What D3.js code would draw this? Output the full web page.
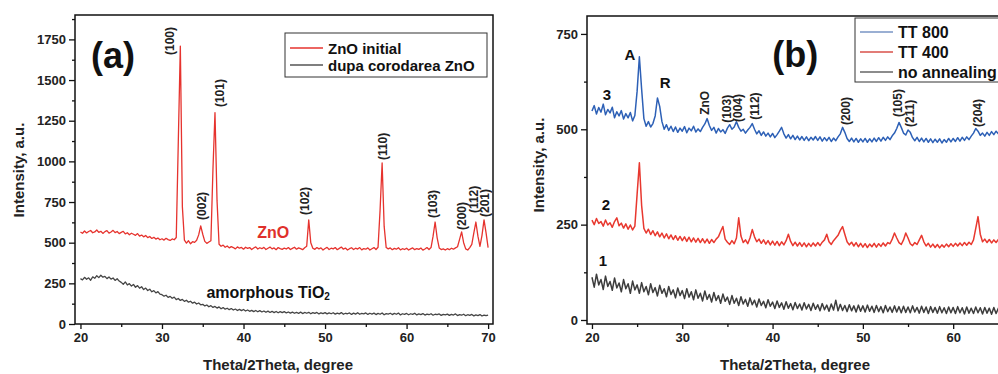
<!DOCTYPE html>
<html>
<head>
<meta charset="utf-8">
<script src="https://cdn.jsdelivr.net/npm/d3@7"></script>
<style>
  html, body { margin: 0; padding: 0; background: #fff; }
  svg { display: block; font-family: "Liberation Sans", Arial, sans-serif; }
</style>
</head>
<body>
<svg id="chart" width="998" height="374"></svg>
<script>
// scans are sampled every 0.25 degree starting at 20
const angleStart = 20;
const angleStep = 0.25;

// panel (a) - ZnO initial (20..70)
const znoInitial = [
  565, 558, 572, 560, 569, 575, 561, 566, 578, 563, 570, 557, 568, 574, 559, 566, 576, 562, 569, 556,
  563, 570, 554, 561, 549, 558, 552, 545, 556, 540, 547, 536, 544, 531, 538, 526, 533, 522, 529, 518,
  524, 516, 527, 519, 514, 523, 518, 532, 1120, 1709, 720, 515, 497, 512, 493, 506, 502, 515, 548, 603,
  552, 508, 496, 504, 512, 950, 1300, 760, 490, 478, 485, 472, 480, 468, 476, 470, 462, 474, 466, 471,
  460, 472, 465, 470, 458, 467, 474, 461, 469, 463, 471, 458, 466, 473, 462, 468, 457, 470, 464, 459,
  467, 461, 470, 458, 465, 472, 460, 468, 463, 457, 469, 478, 640, 500, 466, 459, 470, 462, 468, 455,
  464, 471, 458, 466, 462, 470, 457, 465, 473, 460, 467, 455, 463, 469, 458, 466, 461, 470, 456, 464,
  460, 468, 455, 463, 470, 458, 472, 700, 990, 600, 470, 462, 468, 457, 465, 460, 469, 456, 463, 458,
  466, 455, 462, 468, 457, 464, 459, 467, 454, 461, 470, 458, 470, 540, 627, 530, 468, 458, 462, 455,
  463, 457, 466, 460, 468, 475, 520, 566, 500, 462, 455, 470, 490, 560, 627, 540, 478, 545, 640, 560,
  470
];

// panel (a) - dupa corodarea ZnO (20..70)
const dupaCorodarea = [
  279, 271, 287, 275, 284, 269, 290, 281, 297, 285, 300, 288, 293, 279, 289, 276, 283, 268, 278, 264,
  256, 244, 259, 240, 248, 233, 243, 226, 236, 220, 229, 212, 221, 206, 214, 198, 205, 191, 199, 184,
  180, 171, 177, 164, 170, 158, 165, 150, 157, 145, 151, 139, 146, 134, 140, 128, 134, 123, 129, 118,
  121, 111, 117, 106, 113, 102, 108, 98, 105, 94, 101, 91, 97, 88, 95, 86, 92, 83, 90, 82,
  89, 80, 86, 78, 84, 76, 83, 75, 82, 74, 80, 72, 79, 71, 78, 70, 77, 69, 76, 70,
  76, 68, 74, 67, 73, 66, 72, 65, 73, 64, 71, 66, 72, 63, 70, 65, 71, 62, 69, 64,
  70, 62, 68, 63, 69, 61, 67, 62, 70, 60, 66, 63, 68, 59, 67, 61, 69, 60, 65, 62,
  68, 59, 66, 61, 67, 58, 65, 60, 68, 57, 64, 61, 66, 58, 65, 60, 67, 56, 63, 59,
  65, 57, 63, 59, 66, 56, 62, 58, 64, 55, 61, 57, 63, 54, 60, 58, 62, 53, 59, 56,
  61, 53, 59, 55, 62, 52, 58, 54, 60, 51, 57, 53, 59, 50, 56, 52, 58, 49, 55, 51,
  54
];

// panel (b) - TT 800 (20..65.75)
const tt800 = [
  548, 562, 540, 557, 545, 566, 538, 552, 543, 558, 530, 546, 535, 549, 527, 541, 530, 544, 522, 536,
  600, 690, 605, 528, 508, 520, 506, 515, 535, 582, 560, 520, 500, 512, 497, 508, 494, 506, 492, 503,
  495, 507, 491, 503, 496, 508, 493, 501, 494, 505, 514, 528, 510, 497, 505, 490, 502, 493, 499, 489,
  503, 512, 500, 506, 520, 505, 495, 500, 490, 498, 505, 515, 500, 488, 496, 484, 493, 482, 490, 480,
  489, 478, 486, 495, 505, 488, 477, 486, 475, 484, 473, 482, 472, 481, 471, 480, 470, 479, 472, 481,
  471, 480, 469, 478, 470, 479, 468, 477, 470, 480, 488, 505, 492, 476, 468, 477, 467, 476, 466, 475,
  467, 476, 466, 475, 467, 477, 468, 478, 469, 479, 471, 480, 473, 483, 490, 502, 518, 505, 490, 485,
  498, 492, 478, 470, 479, 468, 477, 467, 476, 466, 475, 465, 474, 466, 475, 464, 473, 466, 476, 467,
  476, 468, 478, 469, 479, 471, 480, 473, 482, 490, 502, 495, 484, 490, 482, 492, 484, 494, 486, 495,
  488, 496, 489, 497
];

// panel (b) - TT 400
const tt400 = [
  262, 250, 266, 253, 258, 246, 262, 249, 255, 243, 258, 268, 247, 254, 241, 252, 238, 249, 236, 246,
  330, 412, 300, 240, 228, 238, 224, 234, 221, 231, 218, 228, 215, 226, 213, 223, 211, 221, 209, 219,
  208, 218, 206, 217, 205, 215, 204, 214, 203, 213, 202, 212, 201, 211, 203, 212, 218, 232, 245, 212,
  204, 198, 208, 200, 215, 268, 220, 203, 210, 200, 215, 237, 218, 205, 212, 201, 210, 199, 208, 197,
  207, 196, 206, 195, 205, 197, 208, 225, 206, 195, 204, 194, 203, 193, 202, 192, 201, 193, 202, 194,
  203, 195, 204, 210, 225, 205, 198, 208, 215, 222, 235, 245, 225, 205, 197, 204, 194, 203, 192, 201,
  191, 200, 190, 199, 192, 201, 191, 200, 193, 202, 194, 203, 200, 212, 228, 215, 203, 198, 210, 228,
  215, 200, 195, 203, 198, 210, 222, 205, 194, 201, 191, 199, 190, 198, 189, 197, 191, 199, 192, 200,
  193, 201, 194, 202, 195, 203, 196, 204, 198, 210, 240, 271, 225, 205, 212, 203, 211, 202, 210, 203,
  211, 204, 212, 205
];

// panel (b) - no annealing
const noAnnealing = [
  112, 86, 120, 92, 106, 80, 115, 88, 101, 78, 110, 84, 97, 74, 106, 82, 95, 70, 102, 79,
  92, 70, 98, 74, 88, 66, 95, 72, 85, 63, 91, 70, 82, 61, 88, 67, 79, 58, 84, 64,
  77, 56, 82, 60, 74, 53, 79, 57, 70, 50, 76, 54, 67, 47, 72, 51, 64, 44, 68, 49,
  60, 41, 64, 44, 57, 38, 61, 42, 54, 36, 58, 40, 52, 34, 55, 38, 49, 32, 53, 36,
  47, 30, 50, 33, 45, 28, 48, 31, 43, 27, 46, 30, 42, 26, 45, 29, 41, 25, 44, 28,
  40, 24, 43, 27, 39, 23, 42, 26, 52, 24, 41, 25, 38, 22, 40, 24, 37, 21, 39, 23,
  37, 21, 39, 23, 36, 20, 38, 22, 35, 19, 38, 22, 34, 20, 37, 21, 35, 19, 36, 20,
  34, 19, 37, 21, 33, 18, 36, 20, 34, 17, 35, 20, 33, 18, 35, 19, 32, 17, 34, 19,
  33, 17, 35, 19, 32, 16, 34, 18, 31, 17, 34, 19, 32, 16, 33, 18, 31, 15, 33, 17,
  31, 16, 32, 18
];

// tick values
const xMajorA = [20, 30, 40, 50, 60, 70];
const xMinorA = [25, 35, 45, 55, 65];
const xMajorB = [20, 30, 40, 50, 60];
const xMinorB = [25, 35, 45, 55, 65];
const yMajorA = [0, 250, 500, 750, 1000, 1250, 1500, 1750];
const yMinorA = [125, 375, 625, 875, 1125, 1375, 1625, 1875];
const yMajorB = [0, 250, 500, 750];
const yMinorB = [125, 375, 625];

// Miller index labels: [text, angle, intensity at the foot of the label]
const hklA = [
  ['(100)', 31.0, 1654], ['(002)', 34.95, 640], ['(101)', 37.15, 1334],
  ['(102)', 47.6, 670], ['(110)', 57.1, 1008], ['(103)', 63.3, 652],
  ['(200)', 66.8, 578], ['(112)', 68.3, 682], ['(201)', 69.6, 658]
];
const hklB = [
  ['ZnO', 32.5, 538], ['(103)', 34.96, 517], ['(004)', 36.2, 519], ['(112)', 38.06, 525],
  ['(200)', 48.1, 511], ['(105)', 53.9, 532], ['(211)', 55.2, 506], ['(204)', 62.7, 506]
];

const svg = d3.select('#chart');

function drawPanel(p) {
  const x = d3.scaleLinear().domain(p.xDomain).range([p.left, p.right]);
  const y = d3.scaleLinear().domain(p.yDomain).range([p.bottom, p.top]);
  const g = svg.append('g');

  g.append('clipPath').attr('id', 'clip-' + p.id)
      .append('rect')
      .attr('x', p.left).attr('y', p.top)
      .attr('width', p.right - p.left).attr('height', p.bottom - p.top);

  // minor ticks first, then labelled ones
  g.append('g')
      .attr('transform', 'translate(0,' + p.bottom + ')')
      .call(d3.axisBottom(x).tickValues(p.xMinor).tickSize(3).tickFormat(''))
      .call(a => a.select('.domain').remove());
  g.append('g')
      .attr('transform', 'translate(' + p.left + ',0)')
      .call(d3.axisLeft(y).tickValues(p.yMinor).tickSize(3).tickFormat(''))
      .call(a => a.select('.domain').remove());

  const xAxis = g.append('g')
      .attr('transform', 'translate(0,' + p.bottom + ')')
      .call(d3.axisBottom(x).tickValues(p.xMajor).tickSize(5).tickPadding(4).tickFormat(d3.format('d')))
      .call(a => a.select('.domain').remove());
  const yAxis = g.append('g')
      .attr('transform', 'translate(' + p.left + ',0)')
      .call(d3.axisLeft(y).tickValues(p.yMajor).tickSize(6).tickPadding(3).tickFormat(d3.format('d')))
      .call(a => a.select('.domain').remove());
  [xAxis, yAxis].forEach(a => {
    a.attr('font-family', null).attr('font-size', null);
    a.selectAll('text').attr('font-size', 13).attr('font-weight', 'bold').attr('fill', '#222');
  });
  g.selectAll('.tick line').attr('stroke', '#111').attr('stroke-width', 1.3);

  // scans
  const line = d3.line()
      .x((d, i) => x(angleStart + i * angleStep))
      .y(d => y(d));
  p.series.forEach(s => {
    g.append('path')
        .datum(s.values)
        .attr('clip-path', 'url(#clip-' + p.id + ')')
        .attr('fill', 'none')
        .attr('stroke', s.color)
        .attr('stroke-width', s.width)
        .attr('stroke-linejoin', 'round')
        .attr('d', line);
  });

  // frame
  g.append('rect')
      .attr('x', p.left).attr('y', p.top)
      .attr('width', p.right - p.left).attr('height', p.bottom - p.top)
      .attr('fill', 'none').attr('stroke', '#111').attr('stroke-width', 1.5);

  // axis titles
  g.append('text')
      .attr('x', p.xTitleX).attr('y', 370)
      .attr('text-anchor', 'middle')
      .attr('font-size', 15).attr('font-weight', 'bold').attr('fill', '#222')
      .text('Theta/2Theta, degree');
  g.append('text')
      .attr('transform', 'translate(' + p.yTitleX + ',' + p.yTitleY + ') rotate(-90)')
      .attr('text-anchor', 'middle').attr('dominant-baseline', 'central')
      .attr('font-size', 15).attr('font-weight', 'bold').attr('fill', '#222')
      .text('Intensity, a.u.');

  // panel letter
  g.append('text')
      .attr('x', x(p.letterAt[0])).attr('y', y(p.letterAt[1]))
      .attr('text-anchor', 'middle').attr('dominant-baseline', 'central')
      .attr('font-size', 36).attr('font-weight', 'bold').attr('fill', '#111')
      .text(p.letter);

  // peak indices, written upwards
  p.hkl.forEach(([t, a, v]) => {
    g.append('text')
        .attr('transform', 'translate(' + x(a) + ',' + y(v) + ') rotate(-90)')
        .attr('dominant-baseline', 'central')
        .attr('font-size', 12).attr('font-weight', 'bold').attr('fill', '#222')
        .text(t);
  });

  return {x, y, g};
}

function drawLegend(g, box, items, fontSize, rowGap) {
  g.append('rect')
      .attr('x', box.x).attr('y', box.y).attr('width', box.w).attr('height', box.h)
      .attr('fill', '#fff').attr('stroke', '#333').attr('stroke-width', 1);
  items.forEach((it, i) => {
    const cy = box.y + box.first + i * rowGap;
    g.append('line')
        .attr('x1', box.x + 5).attr('x2', box.x + 38)
        .attr('y1', cy).attr('y2', cy)
        .attr('stroke', it.color).attr('stroke-width', 1.3);
    g.append('text')
        .attr('x', box.x + 43).attr('y', cy)
        .attr('dominant-baseline', 'central')
        .attr('font-size', fontSize).attr('font-weight', 'bold').attr('fill', '#111')
        .text(it.name);
  });
}

// ---- panel (a)
const a = drawPanel({
  id: 'a', left: 75, right: 493, top: 15, bottom: 324,
  xDomain: [19.33, 70.6], yDomain: [0, 1900],
  xMajor: xMajorA, xMinor: xMinorA,
  yMajor: yMajorA, yMinor: yMinorA,
  xTitleX: 278, yTitleX: 18, yTitleY: 170,
  letter: '(a)', letterAt: [24.0, 1654],
  hkl: hklA,
  series: [
    {values: dupaCorodarea, color: '#454545', width: 1.3},
    {values: znoInitial, color: '#e6332e', width: 1.3}
  ]
});
drawLegend(a.g, {x: 285, y: 33, w: 202, h: 44, first: 15}, [
  {name: 'ZnO initial', color: '#e6332e'},
  {name: 'dupa corodarea ZnO', color: '#555'}
], 15, 17);
a.g.append('text')
    .attr('x', a.x(43.65)).attr('y', a.y(560))
    .attr('text-anchor', 'middle').attr('dominant-baseline', 'central')
    .attr('font-size', 16).attr('font-weight', 'bold').attr('fill', '#e0302b')
    .text('ZnO');
const tio2 = a.g.append('text')
    .attr('x', a.x(35.45)).attr('y', a.y(197))
    .attr('dominant-baseline', 'central')
    .attr('font-size', 16).attr('font-weight', 'bold').attr('fill', '#111');
tio2.append('tspan').text('amorphous TiO');
tio2.append('tspan').attr('font-size', 10).attr('dy', 4).text('2');

// ---- panel (b)
const b = drawPanel({
  id: 'b', left: 587, right: 1048, top: 16, bottom: 324,
  xDomain: [19.45, 70.5], yDomain: [-10.5, 797],
  xMajor: xMajorB, xMinor: xMinorB,
  yMajor: yMajorB, yMinor: yMinorB,
  xTitleX: 795, yTitleX: 538, yTitleY: 165,
  letter: '(b)', letterAt: [42.5, 695],
  hkl: hklB,
  series: [
    {values: noAnnealing, color: '#3d3d3d', width: 1.5},
    {values: tt400, color: '#e8382f', width: 1.5},
    {values: tt800, color: '#2d60b6', width: 1.5}
  ]
});
drawLegend(b.g, {x: 855, y: 18, w: 170, h: 64, first: 14}, [
  {name: 'TT 800', color: '#7895c4'},
  {name: 'TT 400', color: '#d8504a'},
  {name: 'no annealing', color: '#666'}
], 16, 20);
[['3', 21.66, 590], ['A', 24.2, 697], ['R', 28.1, 622], ['2', 21.55, 302], ['1', 21.2, 157]]
    .forEach(([t, ang, v]) => {
      b.g.append('text')
          .attr('x', b.x(ang)).attr('y', b.y(v))
          .attr('text-anchor', 'middle').attr('dominant-baseline', 'central')
          .attr('font-size', 15).attr('font-weight', 'bold').attr('fill', '#111')
          .text(t);
    });
</script>
</body>
</html>
